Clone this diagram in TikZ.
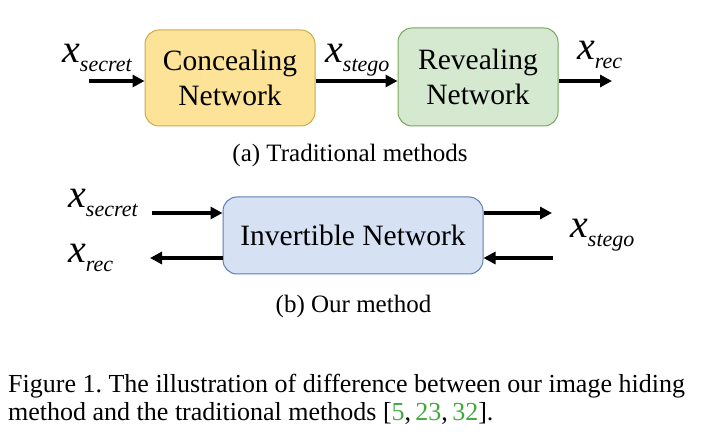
\documentclass[tikz,border=0pt]{standalone}
\usepackage{fontspec}
\setmainfont{Liberation Serif}
\usetikzlibrary{arrows.meta}
\frenchspacing

\definecolor{concealfill}{RGB}{252,227,152}
\definecolor{concealdraw}{RGB}{206,170,72}
\definecolor{revealfill}{RGB}{213,232,208}
\definecolor{revealdraw}{RGB}{118,168,92}
\definecolor{invfill}{RGB}{214,226,244}
\definecolor{invdraw}{RGB}{92,126,178}
\definecolor{citegreen}{RGB}{64,170,60}

\newcommand{\xvar}[1]{{\fontsize{40}{40}\selectfont\itshape x}\raisebox{-9pt}{\fontsize{22}{22}\selectfont\itshape #1}}

\begin{document}
\begin{tikzpicture}[x=1pt, y=-1pt,
    netbox/.style={draw, rounded corners=14pt, line width=1pt, align=center,
      font=\fontsize{29.5}{35}\selectfont},
    flow/.style={line width=3.2pt, -{Triangle[length=12pt,width=12pt]}},
    lbl/.style={anchor=base west, inner sep=0pt},
    subcap/.style={anchor=base, inner sep=0pt, font=\fontsize{25}{28}\selectfont},
    figcap/.style={anchor=base west, inner sep=0pt, font=\fontsize{26}{28}\selectfont}]
  \useasboundingbox (0,0) rectangle (709,435);

  % (a) traditional
  \node[netbox, fill=concealfill, draw=concealdraw, minimum width=170pt, minimum height=96pt]
    (conceal) at (230,78) {Concealing\\Network};
  \node[netbox, fill=revealfill, draw=revealdraw, minimum width=160pt, minimum height=98pt]
    (reveal) at (478,77) {Revealing\\Network};
  \coordinate (ain) at (89,81);
  \coordinate (aout) at (612,81);
  \node[lbl] (asecret) at (62,63) {\xvar{secret}};
  \node[lbl] (astego) at (325,63) {\xvar{stego}};
  \node[lbl] (arec) at (577,60) {\xvar{rec}};
  \draw[flow] (ain) -- (ain -| conceal.west);
  \draw[flow] (ain -| conceal.east) -- (ain -| reveal.west);
  \draw[flow] (ain -| reveal.east) -- (aout);
  \node[subcap] (capa) at (350,162) {(a) Traditional methods};

  % (b) ours
  \node[netbox, fill=invfill, draw=invdraw, minimum width=260pt, minimum height=77pt]
    (inv) at (353,235.5) {Invertible Network};
  \coordinate (bin) at (152,213);
  \coordinate (bback) at (150,258);
  \coordinate (bout) at (552,213);
  \coordinate (bstego) at (553,258);
  \node[lbl] (bsecret) at (68,208) {\xvar{secret}};
  \node[lbl] (brec) at (68,263) {\xvar{rec}};
  \node[lbl] (bstegolbl) at (570,238) {\xvar{stego}};
  \draw[flow] (bin) -- (bin -| inv.west);
  \draw[flow] (bback -| inv.west) -- (bback);
  \draw[flow] (bout -| inv.east) -- (bout);
  \draw[flow] (bstego) -- (bstego -| inv.east);
  \node[subcap] (capb) at (353.5,313) {(b) Our method};

  % figure caption
  \node[figcap] (capline1) at (8,392) {Figure 1. The illustration of difference between our image hiding};
  \node[figcap] (capline2) at (8,420) {method and the traditional methods
    [\textcolor{citegreen}{5},\,\textcolor{citegreen}{23},\,\textcolor{citegreen}{32}].};
\end{tikzpicture}
\end{document}
